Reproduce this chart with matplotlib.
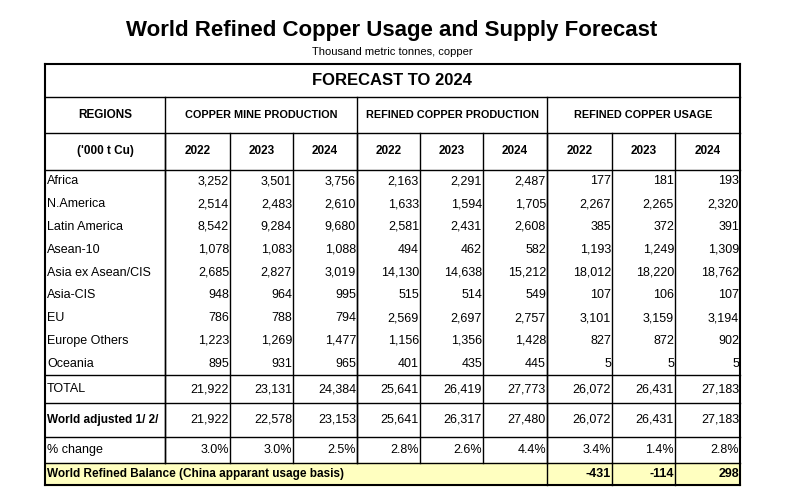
import matplotlib.pyplot as plt

regions = ["Africa", "N.America", "Latin America", "Asean-10", "Asia ex Asean/CIS",
           "Asia-CIS", "EU", "Europe Others", "Oceania"]
mine = [[3252, 3501, 3756], [2514, 2483, 2610], [8542, 9284, 9680], [1078, 1083, 1088],
        [2685, 2827, 3019], [948, 964, 995], [786, 788, 794], [1223, 1269, 1477], [895, 931, 965]]
refined = [[2163, 2291, 2487], [1633, 1594, 1705], [2581, 2431, 2608], [494, 462, 582],
           [14130, 14638, 15212], [515, 514, 549], [2569, 2697, 2757], [1156, 1356, 1428],
           [401, 435, 445]]
usage = [[177, 181, 193], [2267, 2265, 2320], [385, 372, 391], [1193, 1249, 1309],
         [18012, 18220, 18762], [107, 106, 107], [3101, 3159, 3194], [827, 872, 902], [5, 5, 5]]
total = [21922, 23131, 24384, 25641, 26419, 27773, 26072, 26431, 27183]
adjusted = [21922, 22578, 23153, 25641, 26317, 27480, 26072, 26431, 27183]
pct_change = [3.0, 3.0, 2.5, 2.8, 2.6, 4.4, 3.4, 1.4, 2.8]
balance = [-431, -114, 298]
years = ["2022", "2023", "2024"]
groups = ["COPPER MINE PRODUCTION", "REFINED COPPER PRODUCTION", "REFINED COPPER USAGE"]

plt.rcParams['font.family'] = ['Liberation Sans', 'DejaVu Sans']

fig = plt.figure(figsize=(7.85, 4.91), dpi=100)
ax = fig.add_axes([0, 0, 1, 1])
ax.set_xlim(0, 785)
ax.set_ylim(491, 0)
ax.axis("off")

L, R = 45, 740
cols = [165, 230, 293, 357, 420, 483, 547, 612, 675, 740]
y_top, y_fc, y_hd, y_yr, y_dat = 64, 97, 133, 170, 375
y_tot, y_adj, y_pct, y_bal = 403, 437, 463, 485
fs = 9

ax.text(392, 30, "World Refined Copper Usage and Supply Forecast", ha="center", va="center",
        fontsize=16, fontweight="bold")
ax.text(392, 52, "Thousand metric tonnes, copper", ha="center", va="center", fontsize=8)

# balance row fill
ax.fill_between([L, R], y_pct, y_bal, color="#ffffc0", zorder=0)

def hline(y, x0=L, x1=R, lw=1.0):
    ax.plot([x0, x1], [y, y], color="black", lw=lw)

def vline(x, y0, y1, lw=1.0):
    ax.plot([x, x], [y0, y1], color="black", lw=lw)

hline(y_top, lw=1.5)
for y in [y_fc, y_hd, y_yr, y_dat, y_tot, y_adj, y_pct]:
    hline(y)
hline(y_bal, lw=1.5)
vline(L, y_top, y_bal, 1.5)
vline(R, y_top, y_bal, 1.5)
for x in [165, 357, 547]:
    vline(x, y_fc, y_pct)
for x in cols[:-1]:
    vline(x, y_hd, y_pct)
for x in [547, 612, 675]:
    vline(x, y_pct, y_bal)

ax.text(392, 80, "FORECAST TO 2024", ha="center", va="center", fontsize=12, fontweight="bold")
ax.text(105, 115, "REGIONS", ha="center", va="center", fontsize=8.5, fontweight="bold")
ax.text(105, 151, "('000 t Cu)", ha="center", va="center", fontsize=8.5, fontweight="bold")
for g in range(3):
    x0, x1 = cols[g * 3], cols[g * 3 + 3]
    ax.text((x0 + x1) / 2, 115, groups[g], ha="center", va="center", fontsize=7.8,
            fontweight="bold")
    for k in range(3):
        ax.text((cols[g * 3 + k] + cols[g * 3 + k + 1]) / 2, 151, years[k], ha="center",
                va="center", fontsize=8.5, fontweight="bold")

row_h = (y_dat - y_yr) / len(regions)
for i, reg in enumerate(regions):
    y = y_yr + row_h * (i + 0.5)
    ax.text(L + 2, y, reg, ha="left", va="center", fontsize=fs)
    vals = mine[i] + refined[i] + usage[i]
    for j, v in enumerate(vals):
        ax.text(cols[j + 1] - 1, y, f"{v:,}", ha="right", va="center", fontsize=fs)

def row(y, label, vals, bold=False):
    ax.text(L + 2, y, label, ha="left", va="center", fontsize=8.5 if bold else fs,
            fontweight="bold" if bold else "normal")
    for j, v in enumerate(vals):
        ax.text(cols[j + 1] - 1, y, v, ha="right", va="center", fontsize=fs)

row((y_dat + y_tot) / 2, "TOTAL", [f"{v:,}" for v in total])
row((y_tot + y_adj) / 2, "World adjusted 1/ 2/", [f"{v:,}" for v in adjusted], bold=True)
row((y_adj + y_pct) / 2, "% change", [f"{v:.1f}%" for v in pct_change])

yb = (y_pct + y_bal) / 2
ax.text(L + 2, yb, "World Refined Balance (China apparant usage basis)", ha="left",
        va="center", fontsize=8.5, fontweight="bold")
for k, v in enumerate(balance):
    ax.text(cols[k + 7] - 1, yb, f"{v:,}", ha="right", va="center", fontsize=fs, fontweight="bold")

fig.savefig("out.png", dpi=100)
